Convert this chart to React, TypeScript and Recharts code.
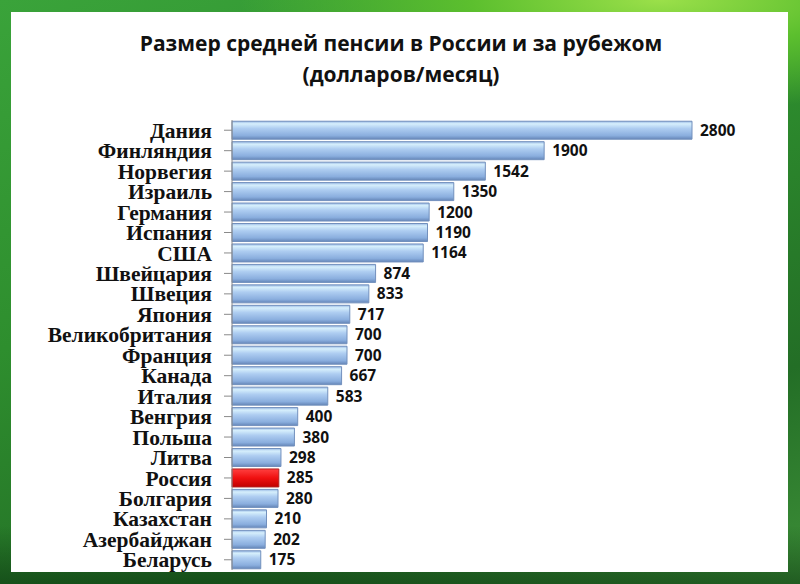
import React from "react";
import { Bar, BarChart, Cell, LabelList, XAxis, YAxis } from "recharts";

const countries = [
  "Дания", "Финляндия", "Норвегия", "Израиль", "Германия", "Испания", "США",
  "Швейцария", "Швеция", "Япония", "Великобритания", "Франция", "Канада", "Италия",
  "Венгрия", "Польша", "Литва", "Россия", "Болгария", "Казахстан", "Азербайджан", "Беларусь",
];
const pensions = [
  2800, 1900, 1542, 1350, 1200, 1190, 1164, 874, 833, 717, 700, 700, 667, 583,
  400, 380, 298, 285, 280, 210, 202, 175,
];
const highlight = "Россия";

const data = countries.map((name, i) => ({ name, value: pensions[i] }));

export default function App() {
  return (
    <div
      style={{
        position: "absolute",
        left: 0,
        top: 0,
        width: 800,
        height: 584,
        overflow: "hidden",
        background:
          "radial-gradient(ellipse 420px 110px at 660px 0px, #9be04a 0%, #5cbf2e 45%, rgba(60,160,40,0) 100%), linear-gradient(to bottom, rgba(0,0,0,0) 0%, rgba(0,0,0,0) 90%, rgba(10,50,15,0.55) 100%), linear-gradient(160deg, #3aa33a 0%, #2e8e2e 40%, #236e26 75%, #3d8f38 100%)",
      }}
    >
      <div
        style={{
          position: "absolute",
          left: 11,
          top: 12,
          width: 777,
          height: 560,
          background: "#ffffff",
        }}
      />
      <div
        style={{
          position: "absolute",
          left: 0,
          top: 28,
          width: 802,
          textAlign: "center",
          fontFamily: "'Open Sans', sans-serif",
          fontWeight: 700,
          fontSize: 21,
          lineHeight: "31px",
          color: "#111",
        }}
      >
        Размер средней пенсии в России и за рубежом
        <br />
        (долларов/месяц)
      </div>
      <div style={{ position: "absolute", left: 0, top: 0 }}>
        <BarChart
          width={800}
          height={584}
          data={data}
          layout="vertical"
          margin={{ top: 120, right: 108, bottom: 14, left: 0 }}
          barCategoryGap="6%"
        >
          <defs>
            <linearGradient id="blueBar" x1="0" y1="0" x2="0" y2="1">
              <stop offset="0%" stopColor="#98b8e4" />
              <stop offset="14%" stopColor="#d6effc" />
              <stop offset="40%" stopColor="#aecdf1" />
              <stop offset="80%" stopColor="#8aaede" />
              <stop offset="100%" stopColor="#6586b8" />
            </linearGradient>
            <linearGradient id="redBar" x1="0" y1="0" x2="0" y2="1">
              <stop offset="0%" stopColor="#ff4040" />
              <stop offset="50%" stopColor="#f01010" />
              <stop offset="100%" stopColor="#c00000" />
            </linearGradient>
          </defs>
          <XAxis type="number" domain={[0, 2800]} hide />
          <YAxis
            type="category"
            dataKey="name"
            width={232}
            axisLine={{ stroke: "#8a8a8a" }}
            tickLine={{ stroke: "#8a8a8a" }}
            tickSize={8}
            tickMargin={12}
            interval={0}
            tick={{
              fill: "#111",
              fontSize: 21.5,
              fontWeight: 700,
              fontFamily: "'Liberation Serif', 'Times New Roman', serif",
            }}
          />
          <Bar dataKey="value" isAnimationActive={false} stroke="#7c98c2" strokeWidth={1}>
            {data.map((d) => (
              <Cell
                key={d.name}
                fill={d.name === highlight ? "url(#redBar)" : "url(#blueBar)"}
                stroke={d.name === highlight ? "#b02020" : "#7290bd"}
              />
            ))}
            <LabelList
              dataKey="value"
              position="right"
              offset={8}
              style={{
                fill: "#111",
                fontSize: 15.5,
                fontWeight: 700,
                fontFamily: "'Open Sans', sans-serif",
              }}
            />
          </Bar>
        </BarChart>
      </div>
    </div>
  );
}
